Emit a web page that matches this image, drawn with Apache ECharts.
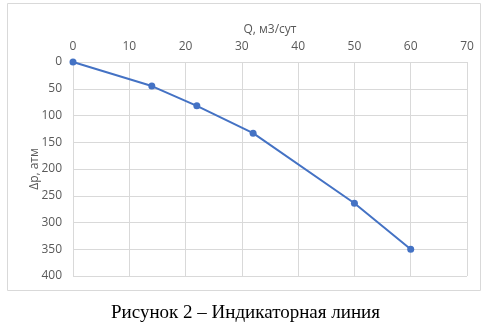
<!DOCTYPE html>
<html><head><meta charset="utf-8">
<script src="https://cdn.jsdelivr.net/npm/echarts@6/dist/echarts.min.js"></script>
<style>html,body{margin:0;padding:0;background:#fff}#c{width:491px;height:329px}</style>
</head><body><div id="c"></div>
<script>
const qValues = [0, 14, 22, 32, 50, 60];
const dpValues = [0, 45, 82, 133, 264, 350];
const xTicks = {min: 0, max: 70, interval: 10};
const yTicks = {min: 0, max: 400, interval: 50};
const xName = 'Q, м3/сут';
const yName = 'Δp, атм';
const caption = 'Рисунок 2 – Индикаторная линия';

const chart = echarts.init(document.getElementById('c'), null, {renderer: 'canvas'});
const lab = {color: '#595959', fontFamily: 'Open Sans', fontSize: 12};
chart.setOption({
  animation: false,
  grid: {left: 73, right: 24, top: 62, bottom: 53},
  graphic: [
    {type: 'rect', shape: {x: 7.5, y: 3.5, width: 473, height: 287}, style: {fill: 'none', stroke: '#d9d9d9', lineWidth: 1}},
    {type: 'text', left: 'center', top: 304, style: {text: caption, font: '19px "Liberation Serif"', fill: '#000'}}
  ],
  xAxis: {
    type: 'value', position: 'top', min: xTicks.min, max: xTicks.max, interval: xTicks.interval,
    name: xName, nameLocation: 'middle', nameGap: 26, nameTextStyle: lab,
    axisLine: {show: true, lineStyle: {color: '#d9d9d9'}}, axisTick: {show: false},
    axisLabel: Object.assign({margin: 9}, lab),
    splitLine: {lineStyle: {color: '#d9d9d9'}}
  },
  yAxis: {
    type: 'value', inverse: true, min: yTicks.min, max: yTicks.max, interval: yTicks.interval,
    name: yName, nameLocation: 'middle', nameGap: 32, nameMoveOverlap: false, nameTextStyle: lab,
    axisLine: {show: true, lineStyle: {color: '#d9d9d9'}}, axisTick: {show: false},
    axisLabel: Object.assign({margin: 11}, lab),
    splitLine: {lineStyle: {color: '#d9d9d9'}}
  },
  series: [{
    type: 'line', data: qValues.map((q, i) => [q, dpValues[i]]),
    symbol: 'circle', symbolSize: 7,
    lineStyle: {color: '#4472C4', width: 2}, itemStyle: {color: '#4472C4'}
  }]
});
</script></body></html>
